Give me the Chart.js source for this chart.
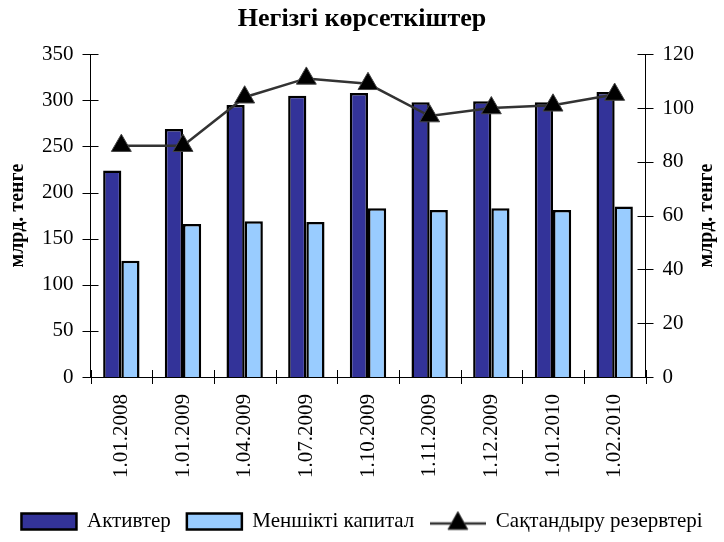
<!DOCTYPE html>
<html>
<head>
<meta charset="utf-8">
<script src="https://cdn.jsdelivr.net/npm/chart.js@4"></script>
<style>
  html, body { margin: 0; padding: 0; background: #fff; }
  #wrap { width: 724px; height: 542px; }
</style>
</head>
<body>
<div id="wrap"><canvas id="chart" width="724" height="542"></canvas></div>
<script>
// Данные
const dates = ['1.01.2008', '1.01.2009', '1.04.2009', '1.07.2009', '1.10.2009', '1.11.2009', '1.12.2009', '1.01.2010', '1.02.2010'];
const assets = [224, 269, 295, 305, 308, 298, 299, 298, 309];
const equity = [126, 166, 169, 168, 183, 181, 183, 181, 185];
const reserves = [86, 86, 104, 111, 109, 97, 100, 101, 105];

const leftTicks = [0, 50, 100, 150, 200, 250, 300, 350];
const rightTicks = [0, 20, 40, 60, 80, 100, 120];

const serif = '"Liberation Serif", "Times New Roman", serif';
const unitLabel = 'млрд. тенге';
Chart.defaults.font.family = serif;

// Значок легенды для линии: отрезок + треугольник
function lineLegendIcon() {
  const c = document.createElement('canvas');
  c.width = 56; c.height = 24;
  const g = c.getContext('2d');
  g.strokeStyle = '#333333';
  g.lineWidth = 2.5;
  g.beginPath(); g.moveTo(0, 14); g.lineTo(56, 14); g.stroke();
  g.fillStyle = '#000';
  g.strokeStyle = '#444';
  g.lineWidth = 1;
  g.beginPath(); g.moveTo(28, 2); g.lineTo(38, 20); g.lineTo(18, 20); g.closePath();
  g.fill(); g.stroke();
  return c;
}
const lineIcon = lineLegendIcon();

// Засечки, пересекающие оси + подпись правой оси
const axisDecor = {
  id: 'axisDecor',
  afterDraw(chart) {
    const { ctx, chartArea } = chart;
    const y = chart.scales.y, y2 = chart.scales.y2;
    ctx.save();
    ctx.strokeStyle = '#000';
    ctx.lineWidth = 1;
    ctx.beginPath();
    leftTicks.forEach(v => {
      const py = Math.round(y.getPixelForValue(v)) + 0.5;
      ctx.moveTo(chartArea.left - 8, py); ctx.lineTo(chartArea.left + 8, py);
    });
    rightTicks.forEach(v => {
      const py = Math.round(y2.getPixelForValue(v)) + 0.5;
      ctx.moveTo(chartArea.right - 8, py); ctx.lineTo(chartArea.right + 8, py);
    });
    const n = dates.length;
    for (let i = 0; i <= n; i++) {
      const px = Math.round(chartArea.left + i * (chartArea.right - chartArea.left) / n) + 0.5;
      ctx.moveTo(px, chartArea.bottom - 7); ctx.lineTo(px, chartArea.bottom + 7);
    }
    ctx.stroke();

    // подпись справа (снизу вверх, как слева)
    ctx.translate(707, (chartArea.top + chartArea.bottom) / 2);
    ctx.rotate(-Math.PI / 2);
    ctx.fillStyle = '#000';
    ctx.font = 'bold 20px ' + serif;
    ctx.textAlign = 'center';
    ctx.textBaseline = 'middle';
    ctx.fillText(unitLabel, 0, 0);
    ctx.restore();
  }
};

new Chart(document.getElementById('chart'), {
  data: {
    labels: dates,
    datasets: [
      {
        type: 'line',
        label: 'Сақтандыру резервтері',
        data: reserves,
        yAxisID: 'y2',
        borderColor: '#333333',
        borderWidth: 2.5,
        pointStyle: 'triangle',
        pointRadius: 11.5,
        pointBackgroundColor: '#000',
        pointBorderColor: '#444',
        pointBorderWidth: 1,
        tension: 0,
        order: 0
      },
      {
        type: 'bar',
        label: 'Активтер',
        data: assets,
        yAxisID: 'y',
        backgroundColor: '#333399',
        borderColor: '#000',
        borderWidth: 2.5,
        categoryPercentage: 0.59,
        barPercentage: 1,
        order: 1
      },
      {
        type: 'bar',
        label: 'Меншікті капитал',
        data: equity,
        yAxisID: 'y',
        backgroundColor: '#99CCFF',
        borderColor: '#000',
        borderWidth: 2.5,
        categoryPercentage: 0.59,
        barPercentage: 1,
        order: 1
      }
    ]
  },
  options: {
    responsive: false,
    animation: false,
    layout: { padding: { top: 4, left: 0, right: 0, bottom: 0 } },
    plugins: {
      title: {
        display: true,
        text: 'Негізгі көрсеткіштер',
        color: '#000',
        font: { family: serif, size: 26, weight: 'bold' },
        padding: { top: 0, bottom: 19 }
      },
      tooltip: { enabled: false },
      legend: {
        position: 'bottom',
        labels: {
          color: '#000',
          font: { family: serif, size: 21 },
          usePointStyle: true,
          pointStyleWidth: 55,
          boxHeight: 16,
          padding: 16,
          generateLabels(chart) {
            const items = Chart.defaults.plugins.legend.labels.generateLabels(chart);
            items.forEach(it => {
              if (it.datasetIndex === 0) { it.pointStyle = lineIcon; }
              else { it.pointStyle = 'rect'; it.lineWidth = 2.5; it.strokeStyle = '#000'; }
            });
            // порядок: Активтер, Меншікті капитал, резервы
            return [items[1], items[2], items[0]];
          }
        }
      }
    },
    scales: {
      x: {
        offset: true,
        grid: { display: false },
        border: { display: true, color: '#000', width: 1 },
        afterFit(s) { s.height += 8; },
        ticks: {
          color: '#000',
          font: { family: serif, size: 21 },
          maxRotation: 90,
          minRotation: 90,
          padding: 9
        }
      },
      y: {
        position: 'left',
        min: 0, max: 350,
        afterBuildTicks(s) { s.ticks = leftTicks.map(v => ({ value: v })); },
        afterFit(s) { s.width += 3; },
        grid: { display: false },
        border: { display: true, color: '#000', width: 1 },
        ticks: { color: '#000', font: { family: serif, size: 21 }, padding: 9 },
        title: {
          display: true,
          text: unitLabel,
          color: '#000',
          font: { family: serif, size: 20, weight: 'bold' },
          padding: { top: 6, bottom: 0 }
        }
      },
      y2: {
        position: 'right',
        min: 0, max: 120,
        afterBuildTicks(s) { s.ticks = rightTicks.map(v => ({ value: v })); },
        afterFit(s) { s.width += 21; },
        grid: { display: false },
        border: { display: true, color: '#000', width: 1 },
        ticks: { color: '#000', font: { family: serif, size: 21 }, padding: 9 }
      }
    }
  },
  plugins: [axisDecor]
});
</script>
</body>
</html>
